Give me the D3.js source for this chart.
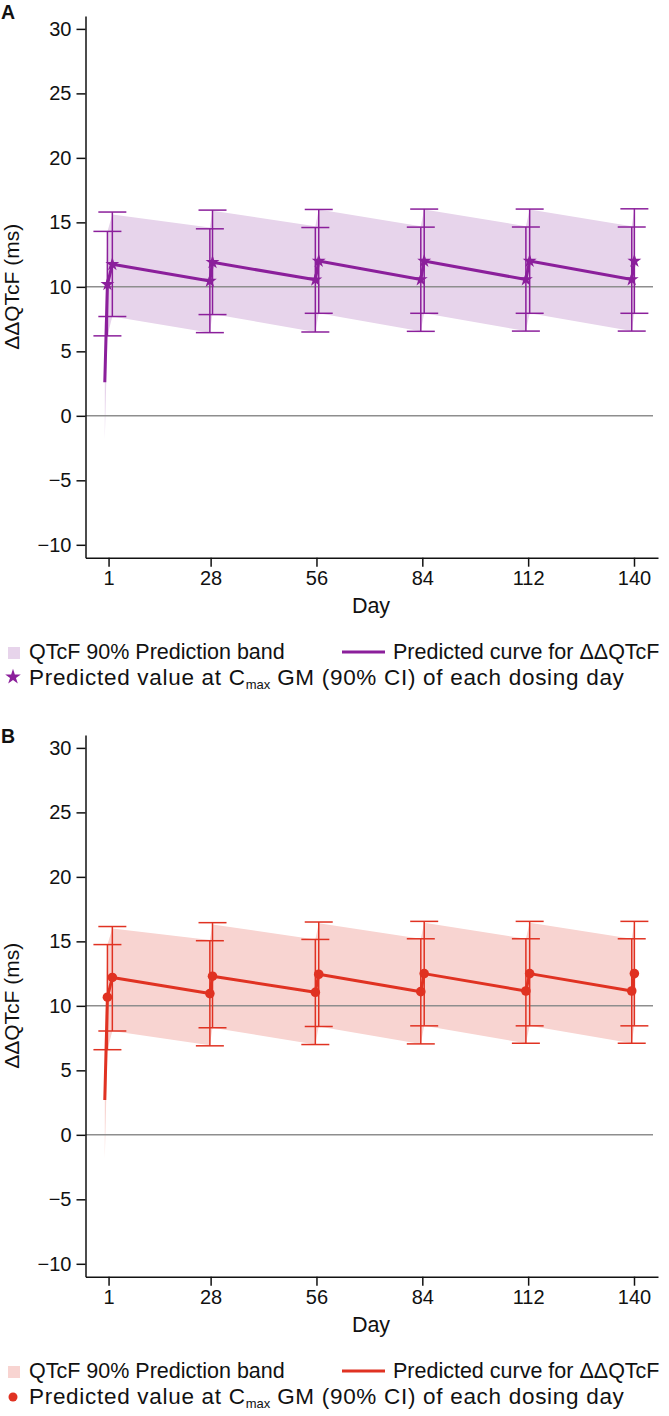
<!DOCTYPE html>
<html>
<head>
<meta charset="utf-8">
<script src="https://cdn.jsdelivr.net/npm/d3@7"></script>
<style>
  body { margin: 0; background: #fff; }
  text { font-family: "Liberation Sans", Arial, sans-serif; fill: #111; }
</style>
</head>
<body>
<script>
// days of the curve vertices (day 0 start, then trough / peak for each dosing day)
var curveDays = [0, 0.7, 2.0, 27.8, 28.5, 55.7, 56.6, 83.6, 84.5, 111.4, 112.4, 139.4, 140.1];
var xTicks = [1, 28, 56, 84, 112, 140];
var yTicks = [-10, -5, 0, 5, 10, 15, 20, 25, 30];

// panel A
var curveA = [2.6, 10.2, 11.75, 10.45, 11.9, 10.55, 12.0, 10.57, 12.0, 10.57, 12.0, 10.57, 12.0];
var bandLoA = [-1.9, 6.2, 7.7, 6.45, 7.9, 6.5, 7.95, 6.55, 7.95, 6.57, 7.95, 6.57, 7.95];
var bandHiA = [7.0, 14.3, 15.6, 14.6, 15.9, 14.7, 16.0, 14.7, 16.0, 14.7, 16.0, 14.7, 16.0];
var ciLoA = [6.2, 7.7, 6.45, 7.85, 6.5, 7.95, 6.55, 7.95, 6.57, 7.95, 6.57, 7.95];
var ciHiA = [14.3, 15.8, 14.5, 15.95, 14.6, 16.0, 14.63, 16.03, 14.64, 16.03, 14.64, 16.05];

// panel B
var curveB = [2.7, 10.67, 12.2, 10.95, 12.3, 11.05, 12.45, 11.1, 12.5, 11.15, 12.5, 11.15, 12.5];
var bandLoB = [-1.9, 6.6, 8.05, 6.95, 8.3, 7.0, 8.4, 7.05, 8.45, 7.1, 8.45, 7.1, 8.45];
var bandHiB = [7.2, 14.75, 16.0, 15.1, 16.3, 15.15, 16.4, 15.2, 16.45, 15.2, 16.45, 15.2, 16.45];
var ciLoB = [6.6, 8.05, 6.9, 8.3, 7.0, 8.4, 7.05, 8.45, 7.1, 8.45, 7.1, 8.45];
var ciHiB = [14.75, 16.15, 15.05, 16.45, 15.15, 16.5, 15.2, 16.55, 15.2, 16.55, 15.2, 16.55];

var svg = d3.select("body").append("svg")
    .attr("width", 669)
    .attr("height", 1416);

var x = d3.scaleLinear().domain([-5.1, 146.35]).range([85.5, 658]);
var y = d3.scaleLinear().domain([-11, 31]).range([557.7, 16]);

function drawPanel(offset, letter, cfg) {
  var g = svg.append("g").attr("transform", "translate(0," + offset + ")");

  var pts = curveDays.map(function(d, i) {
    return {day: d, v: cfg.curve[i], lo: cfg.bandLo[i], hi: cfg.bandHi[i]};
  });
  var marks = curveDays.slice(1).map(function(d, i) {
    return {day: d, v: cfg.curve[i + 1], lo: cfg.ciLo[i], hi: cfg.ciHi[i]};
  });

  // prediction band
  g.append("path")
      .datum(pts)
      .attr("fill", cfg.band)
      .attr("d", d3.area()
        .x(function(d) { return x(d.day); })
        .y0(function(d) { return y(d.lo); })
        .y1(function(d) { return y(d.hi); }));

  // reference lines at 0 and 10
  [0, 10].forEach(function(v) {
    g.append("line")
        .attr("x1", 85.5).attr("x2", 653)
        .attr("y1", y(v)).attr("y2", y(v))
        .attr("stroke", "#8e8e8e")
        .attr("stroke-width", 1.5);
  });

  // error bars
  var eb = g.selectAll(".eb").data(marks).enter().append("g").attr("class", "eb")
      .attr("stroke", cfg.color).attr("stroke-width", 1.5);
  eb.append("line")
      .attr("x1", function(d) { return x(d.day); }).attr("x2", function(d) { return x(d.day); })
      .attr("y1", function(d) { return y(d.lo); }).attr("y2", function(d) { return y(d.hi); });
  eb.append("line")
      .attr("x1", function(d) { return x(d.day) - 14; }).attr("x2", function(d) { return x(d.day) + 14; })
      .attr("y1", function(d) { return y(d.lo); }).attr("y2", function(d) { return y(d.lo); });
  eb.append("line")
      .attr("x1", function(d) { return x(d.day) - 14; }).attr("x2", function(d) { return x(d.day) + 14; })
      .attr("y1", function(d) { return y(d.hi); }).attr("y2", function(d) { return y(d.hi); });

  // predicted curve
  g.append("path")
      .datum(pts)
      .attr("fill", "none")
      .attr("stroke", cfg.color)
      .attr("stroke-width", 3)
      .attr("d", d3.line()
        .x(function(d) { return x(d.day); })
        .y(function(d) { return y(d.v); }));

  // markers
  if (cfg.star) {
    g.selectAll(".mk").data(marks).enter().append("path")
        .attr("transform", function(d) { return "translate(" + x(d.day) + "," + y(d.v) + ")"; })
        .attr("d", d3.symbol().type(d3.symbolStar).size(60))
        .attr("fill", cfg.color);
  } else {
    g.selectAll(".mk").data(marks).enter().append("circle")
        .attr("cx", function(d) { return x(d.day); })
        .attr("cy", function(d) { return y(d.v); })
        .attr("r", 4.8)
        .attr("fill", cfg.color);
  }

  // axes
  var ya = g.append("g")
      .attr("transform", "translate(85.5,0)")
      .call(d3.axisLeft(y).tickValues(yTicks).tickSize(9).tickSizeOuter(0).tickPadding(5));
  var xa = g.append("g")
      .attr("transform", "translate(0,557.7)")
      .call(d3.axisBottom(x).tickValues(xTicks).tickSize(9).tickSizeOuter(0).tickPadding(4));
  [ya, xa].forEach(function(a) {
    a.selectAll("path, line").attr("stroke", "#111").attr("stroke-width", 1.5);
    a.selectAll("text").style("font-size", "20px").attr("fill", "#111")
        .style("font-family", "'Liberation Sans', Arial, sans-serif");
  });

  g.append("text")
      .attr("transform", "rotate(-90)")
      .attr("x", -y(10)).attr("y", 19)
      .attr("text-anchor", "middle")
      .style("font-size", "21px")
      .text("ΔΔQTcF (ms)");
  g.append("text")
      .attr("x", 371).attr("y", 613)
      .attr("text-anchor", "middle")
      .style("font-size", "21.5px")
      .text("Day");

  g.append("text")
      .attr("x", 1).attr("y", cfg.letterY)
      .style("font-size", "19.5px").style("font-weight", "bold")
      .text(letter);

  // legend
  g.append("rect")
      .attr("x", 8).attr("y", 647).attr("width", 12).attr("height", 12)
      .attr("fill", cfg.band);
  g.append("text").attr("x", 29).attr("y", 659).style("font-size", "21.5px")
      .text("QTcF 90% Prediction band");
  g.append("line")
      .attr("x1", 342).attr("x2", 385).attr("y1", 652).attr("y2", 652)
      .attr("stroke", cfg.color).attr("stroke-width", 3);
  g.append("text").attr("x", 393).attr("y", 659).style("font-size", "21.5px")
      .text("Predicted curve for ΔΔQTcF");
  if (cfg.star) {
    g.append("path")
        .attr("transform", "translate(13,677)")
        .attr("d", d3.symbol().type(d3.symbolStar).size(75))
        .attr("fill", cfg.color);
  } else {
    g.append("circle").attr("cx", 13).attr("cy", 678).attr("r", 4.5).attr("fill", cfg.color);
  }
  var t = g.append("text").attr("x", 29).attr("y", 685)
      .style("font-size", "22.5px").style("letter-spacing", "0.7px");
  t.append("tspan").text("Predicted value at C");
  t.append("tspan").attr("dy", 4).style("font-size", "13px").style("letter-spacing", "0px").text("max");
  t.append("tspan").attr("dy", -4).text(" GM (90% CI) of each dosing day");
}

drawPanel(0, "A", {
  curve: curveA, bandLo: bandLoA, bandHi: bandHiA, ciLo: ciLoA, ciHi: ciHiA,
  color: "#8b1f9b", band: "#e7d4eb", star: true, letterY: 19
});
drawPanel(719, "B", {
  curve: curveB, bandLo: bandLoB, bandHi: bandHiB, ciLo: ciLoB, ciHi: ciHiB,
  color: "#e03222", band: "#f8d4d1", star: false, letterY: 24
});
</script>
</body>
</html>
